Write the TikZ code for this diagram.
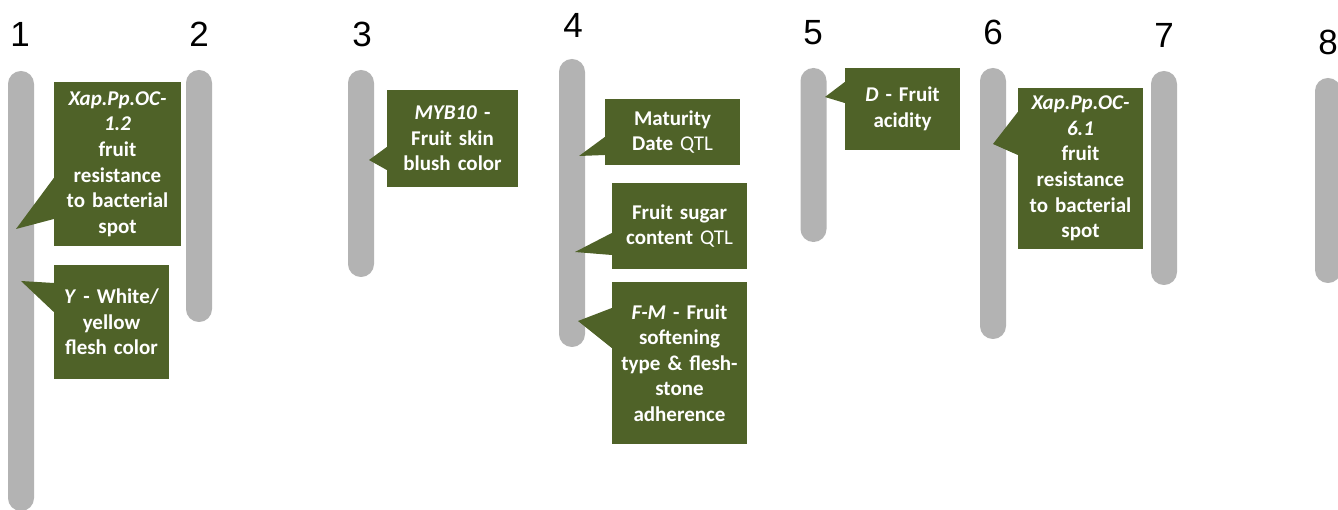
\documentclass[tikz,border=0pt]{standalone}
\usepackage{fontspec}
\setmainfont{Carlito}
\newfontfamily\numfont{Liberation Sans}
\definecolor{olivegreen}{HTML}{4F6228}
\definecolor{chromgray}{HTML}{B3B3B3}
\begin{document}
\begin{tikzpicture}[x=1pt,y=-1pt,
  chrom/.style={fill=chromgray, draw=none, rectangle, rounded corners=12.9pt,
    minimum width=26pt, inner sep=0pt},
  gbox/.style={fill=olivegreen, draw=none, rectangle, inner sep=0pt,
    text=white, align=center,
    font=\bfseries\fontsize{21}{25.6}\selectfont},
  pointer/.style={fill=olivegreen, draw=none},
  chromnum/.style={anchor=base, inner sep=0pt,
    font=\numfont\fontsize{35}{40}\selectfont}]
\useasboundingbox (0,0) rectangle (1338,510);
\fill[white] (0,0) rectangle (1338,510);

% chromosomes
\node[chrom, minimum height=440pt] (c1) at (21,291) {};
\node[chrom, minimum height=252pt] (c2) at (199,196) {};
\node[chrom, minimum height=207pt] (c3) at (361,173.5) {};
\node[chrom, minimum height=288pt] (c4) at (572,203) {};
\node[chrom, minimum height=174pt] (c5) at (813.5,155) {};
\node[chrom, minimum height=271pt] (c6) at (993,203.5) {};
\node[chrom, minimum height=214pt] (c7) at (1164,178) {};
\node[chrom, minimum height=205pt] (c8) at (1328,180.5) {};

% chromosome numbers
\node[chromnum] (n1) at (20,47) {1};
\node[chromnum] (n2) at (199,47) {2};
\node[chromnum] (n3) at (362,47) {3};
\node[chromnum] (n4) at (573,38) {4};
\node[chromnum] (n5) at (813,45) {5};
\node[chromnum] (n6) at (993,45) {6};
\node[chromnum] (n7) at (1164,48) {7};
\node[chromnum] (n8) at (1328,55) {8};

% callout boxes
\node[gbox, minimum width=127pt, minimum height=164pt, text width=127pt] (b1) at (117.5,164)
  {\textit{Xap.Pp.OC-}\\\textit{1.2}\\fruit\\resistance\\to bacterial\\spot};
\node[gbox, minimum width=115pt, minimum height=114pt, text width=115pt] (b2) at (111.5,322)
  {\textit{Y} - White/\\yellow\\flesh color};
\node[gbox, minimum width=131pt, minimum height=97pt, text width=131pt] (b3) at (452.5,138.5)
  {\textit{MYB10} -\\Fruit skin\\blush color};
\node[gbox, minimum width=135pt, minimum height=66pt, text width=135pt] (b4) at (672.5,132)
  {Maturity\\Date \textmd{QTL}};
\node[gbox, minimum width=135pt, minimum height=86pt, text width=135pt] (b5) at (679.5,226)
  {Fruit sugar\\content \textmd{QTL}};
\node[gbox, minimum width=135pt, minimum height=162pt, text width=135pt] (b6) at (679.5,363)
  {\textit{F-M} - Fruit\\softening\\type \& flesh-\\stone\\adherence};
\node[gbox, minimum width=115pt, minimum height=82pt, text width=115pt] (b7) at (902.5,109)
  {\textit{D} - Fruit\\acidity};
\node[gbox, minimum width=125pt, minimum height=161pt, text width=125pt] (b8) at (1080.5,168.5)
  {\textit{Xap.Pp.OC-}\\\textit{6.1}\\fruit\\resistance\\to bacterial\\spot};

% pointer tips on the chromosomes
\coordinate (t1) at (16,229);
\coordinate (t2) at (21,281);
\coordinate (t3) at (369,160);
\coordinate (t4) at (579,156);
\coordinate (t5) at (575,252);
\coordinate (t6) at (578,321);
\coordinate (t7) at (825,97);
\coordinate (t8) at (993,144);

% pointers
\fill[pointer] (b1.west |- 0,178) -- (t1) -- (b1.west |- 0,219) -- cycle;
\fill[pointer] (b2.west |- 0,283) -- (t2) -- (b2.west |- 0,312) -- cycle;
\fill[pointer] (b3.west |- 0,147) -- (t3) -- (b3.west |- 0,170) -- cycle;
\fill[pointer] (b4.west |- 0,137) -- (t4) -- (b4.west |- 0,155) -- cycle;
\fill[pointer] (b5.west |- 0,233) -- (t5) -- (b5.west |- 0,255) -- cycle;
\fill[pointer] (b6.west |- 0,308) -- (t6) -- (b6.west |- 0,348) -- cycle;
\fill[pointer] (b7.west |- 0,82) -- (t7) -- (b7.west |- 0,103) -- cycle;
\fill[pointer] (b8.west |- 0,112) -- (t8) -- (b8.west |- 0,155) -- cycle;
\end{tikzpicture}
\end{document}
